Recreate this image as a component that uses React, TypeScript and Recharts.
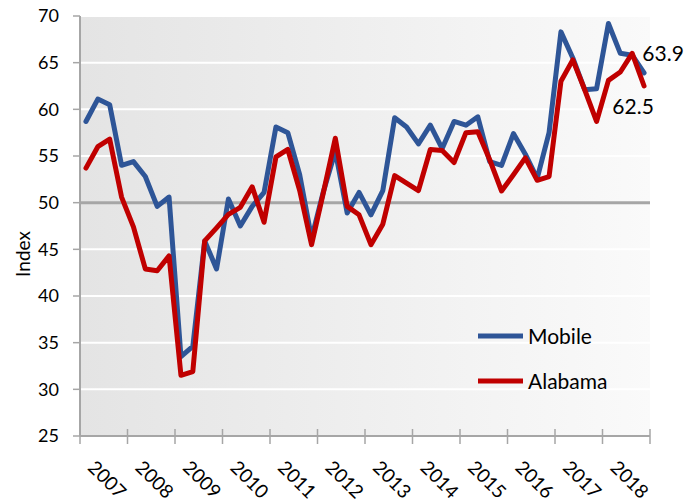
import { LineChart, Line, XAxis, YAxis, CartesianGrid, ReferenceLine, Legend, Label } from 'recharts'

const years = ['2007', '2008', '2009', '2010', '2011', '2012', '2013', '2014', '2015', '2016', '2017', '2018']

// quarterly index, 2007 Q1 .. 2018 Q4
const mobile = [
  58.7, 61.1, 60.5, 54.0, 54.4, 52.8, 49.6, 50.6, 33.5, 34.6, 45.9, 42.9,
  50.4, 47.5, 49.6, 51.1, 58.1, 57.5, 53.0, 46.2, 51.2, 55.5, 48.9, 51.1,
  48.7, 51.3, 59.1, 58.1, 56.3, 58.3, 55.8, 58.7, 58.3, 59.2, 54.4, 54.0,
  57.4, 55.2, 52.6, 57.5, 68.3, 65.5, 62.1, 62.2, 69.2, 66.0, 65.8, 63.9,
]
const alabama = [
  53.7, 56.0, 56.8, 50.6, 47.4, 42.9, 42.7, 44.3, 31.5, 31.9, 45.9, 47.3,
  48.75, 49.5, 51.7, 47.9, 54.9, 55.7, 51.3, 45.5, 51.1, 56.9, 49.6, 48.7,
  45.5, 47.7, 52.9, 52.1, 51.3, 55.7, 55.6, 54.3, 57.5, 57.6, 54.6, 51.25,
  53.0, 54.8, 52.4, 52.8, 63.0, 65.3, 62.1, 58.7, 63.1, 64.0, 66.0, 62.5,
]
const yTicks = [25, 30, 35, 40, 45, 50, 55, 60, 65, 70]

const rows = mobile.map((m, i) => ({ q: i + 0.5, mobile: m, alabama: alabama[i] }))
const boundaryTicks = years.map((_, i) => i * 4).concat(years.length * 4)
const yearTicks = years.map((_, i) => i * 4 + 2)

const FONT = 'Lato, "Open Sans", sans-serif'
const AXIS = '#a6a6a6'

function CrossTick({ x, y }: any) {
  return <line x1={x} x2={x} y1={y - 7} y2={y + 8} stroke={AXIS} strokeWidth={1.5} />
}

function YearTick({ x, y, payload }: any) {
  const cx = x + 4
  const cy = y + 33
  return (
    <text x={cx} y={cy} transform={`rotate(45 ${cx} ${cy})`} textAnchor="middle" dominantBaseline="central"
      fontFamily={FONT} fontSize={19} fill="#000">
      {years[(payload.value - 2) / 4]}
    </text>
  )
}

function endLabel(dx: number, dy: number) {
  return (props: any) => {
    if (props.index !== rows.length - 1) return null
    return (
      <text x={props.x + dx} y={props.y + dy} textAnchor="middle" dominantBaseline="central"
        fontFamily={FONT} fontSize={21} fill="#000">
        {Number(props.value).toFixed(1)}
      </text>
    )
  }
}

function LegendBox() {
  const items = [
    { name: 'Mobile', color: '#2e5597' },
    { name: 'Alabama', color: '#c00000' },
  ]
  return (
    <div>
      {items.map(it => (
        <div key={it.name} style={{ display: 'flex', alignItems: 'center', height: 45 }}>
          <svg width={45} height={10}>
            <line x1={0} x2={45} y1={5} y2={5} stroke={it.color} strokeWidth={5} />
          </svg>
          <span style={{ marginLeft: 5, fontFamily: FONT, fontSize: 21, color: '#000' }}>{it.name}</span>
        </div>
      ))}
    </div>
  )
}

export default function App() {
  return (
    <div style={{ marginTop: -8 }}>
      <LineChart width={690} height={502} data={rows} margin={{ top: 16, right: 48, bottom: 0, left: 0 }}>
        <defs>
          <linearGradient id="plotBg" x1="0" y1="0" x2="1" y2="0">
            <stop offset="0" stopColor="#e4e4e4" />
            <stop offset="1" stopColor="#fafafa" />
          </linearGradient>
        </defs>
        <CartesianGrid vertical={false} stroke="#fff" strokeWidth={2} fill="url(#plotBg)" fillOpacity={1} />
        <XAxis xAxisId={0} dataKey="q" type="number" domain={[0, 48]} ticks={boundaryTicks} interval={0}
          height={10} tickSize={0} tickMargin={0} tickLine={false} tick={<CrossTick />}
          axisLine={{ stroke: AXIS, strokeWidth: 2 }} />
        <XAxis xAxisId="yr" dataKey="q" type="number" domain={[0, 48]} ticks={yearTicks} interval={0}
          height={56} tickSize={0} tickMargin={0} tickLine={false} axisLine={false} tick={<YearTick />} />
        <YAxis domain={[25, 70]} ticks={yTicks} interval={0} width={72} tickSize={7} tickMargin={14}
          axisLine={{ stroke: AXIS, strokeWidth: 2 }} tickLine={{ stroke: AXIS, strokeWidth: 1.5 }}
          tick={{ fontFamily: FONT, fontSize: 18, fill: '#000' }}>
          <Label content={() => (
            <text x={14} y={254} transform="rotate(-90 14 254)" textAnchor="middle" dominantBaseline="central"
              fontFamily={FONT} fontSize={19} fill="#000">Index</text>
          )} />
        </YAxis>
        <ReferenceLine y={50} stroke={AXIS} strokeWidth={3} />
        <Line dataKey="mobile" stroke="#2e5597" strokeWidth={5} dot={false} isAnimationActive={false}
          strokeLinejoin="round" strokeLinecap="round" label={endLabel(19, -20)} />
        <Line dataKey="alabama" stroke="#c00000" strokeWidth={5} dot={false} isAnimationActive={false}
          strokeLinejoin="round" strokeLinecap="round" label={endLabel(-11, 19)} />
        <Legend layout="vertical" align="center" verticalAlign="middle" content={<LegendBox />}
          wrapperStyle={{ left: 470, top: 313, width: 180 }} />
      </LineChart>
    </div>
  )
}
